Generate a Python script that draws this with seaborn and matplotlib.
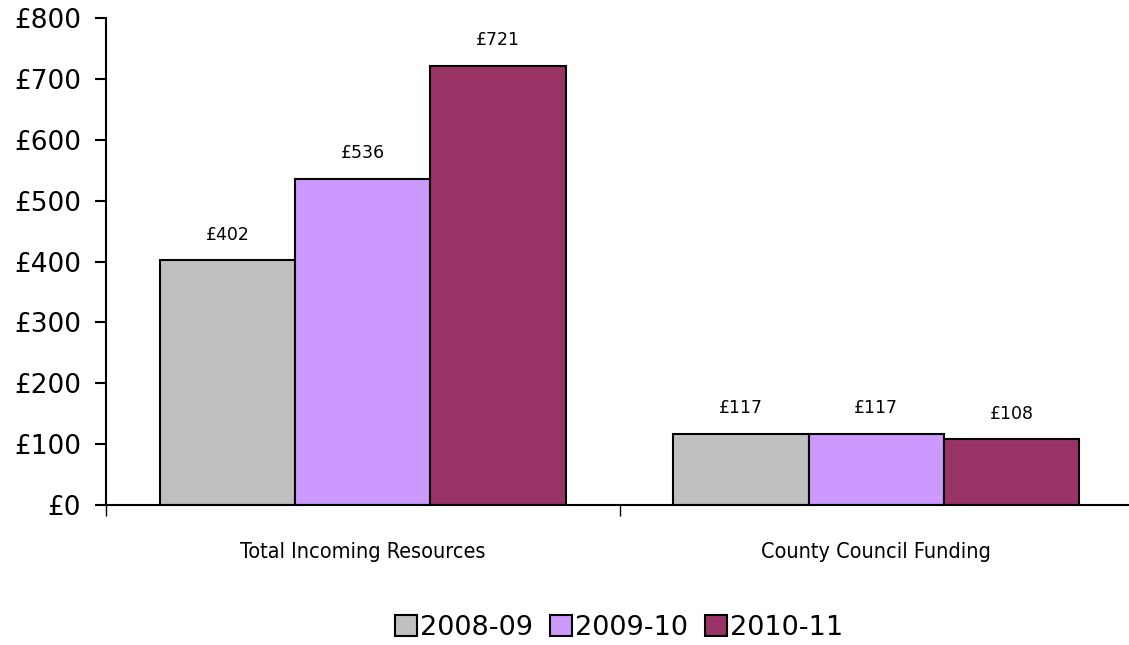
import matplotlib
matplotlib.use("Agg")
import matplotlib.pyplot as plt
from matplotlib.patches import Patch
from matplotlib.ticker import FuncFormatter, FixedLocator
from matplotlib import font_manager
import seaborn as sns
import pandas as pd

categories = ["Total Incoming Resources", "County Council Funding"]
years = ["2008-09", "2009-10", "2010-11"]
values_2008 = [402, 117]
values_2009 = [536, 117]
values_2010 = [721, 108]
colors = ["#C0C0C0", "#CC99FF", "#993366"]
y_ticks = [0, 100, 200, 300, 400, 500, 600, 700, 800]

rows = []
for year, vals in zip(years, [values_2008, values_2009, values_2010]):
    for cat, v in zip(categories, vals):
        rows.append({"category": cat, "year": year, "value": v})
df = pd.DataFrame(rows)

sns.set_theme(style="white")
plt.rcParams["font.family"] = ["DejaVu Sans"]
plt.rcParams["text.color"] = "black"
plt.rcParams["xtick.color"] = "black"
plt.rcParams["ytick.color"] = "black"

# a condensed regular face for the category names, if one is installed
condensed_file = None
for f in sorted(font_manager.fontManager.ttflist, key=lambda f: f.fname):
    base = f.fname.rsplit("/", 1)[-1]
    if (("Condensed" in base or "Narrow" in base) and "Bold" not in base
            and "Italic" not in base and "Oblique" not in base
            and "Light" not in base and "Semi" not in base and "Extra" not in base):
        condensed_file = f.fname
        break

fig = plt.figure(figsize=(11.29, 6.45), dpi=100)
ax = fig.add_axes([106 / 1129, 1 - 505 / 645, (1133 - 106) / 1129, (505 - 18) / 645])

sns.barplot(data=df, x="category", y="value", hue="year", order=categories,
            hue_order=years, palette=colors, width=0.79, edgecolor="black",
            linewidth=1.5, saturation=1, legend=False, ax=ax)

for container in ax.containers:
    ax.bar_label(container, labels=[f"£{v:.0f}" for v in container.datavalues],
                 padding=12, fontsize=12.5, color="black")

ax.set_ylim(0, 800)
ax.set_xlim(-0.5, 1.5)
ax.yaxis.set_major_locator(FixedLocator(y_ticks))
ax.yaxis.set_major_formatter(FuncFormatter(lambda v, p: f"£{v:.0f}"))
ax.tick_params(axis="y", which="major", direction="out", length=8, width=1.5,
               color="black", labelcolor="black", labelsize=19, pad=10, left=True)
ax.tick_params(axis="x", which="major", length=0, pad=27, labelcolor="black")
for lbl in ax.get_xticklabels():
    if condensed_file:
        lbl.set_fontproperties(font_manager.FontProperties(fname=condensed_file, size=15.5))
    else:
        lbl.set_fontsize(14.5)
ax.xaxis.set_minor_locator(FixedLocator([-0.5, 0.5, 1.5]))
ax.tick_params(axis="x", which="minor", direction="out", length=8, width=1,
               color="black", bottom=True)
ax.set_xlabel("")
ax.set_ylabel("")

for side in ["top", "right"]:
    ax.spines[side].set_visible(False)
for side in ["left", "bottom"]:
    ax.spines[side].set_color("black")
    ax.spines[side].set_linewidth(1.5)

handles = [Patch(facecolor=c, edgecolor="black", linewidth=1.5, label=y)
           for c, y in zip(colors, years)]
fig.legend(handles=handles, loc="center", bbox_to_anchor=(619 / 1129, 1 - 628 / 645),
           ncol=3, frameon=False, fontsize=19.5, handlelength=0.8, handleheight=0.8,
           handletextpad=0.1, columnspacing=0.65, labelcolor="black")

fig.savefig("out.png", dpi=100)
